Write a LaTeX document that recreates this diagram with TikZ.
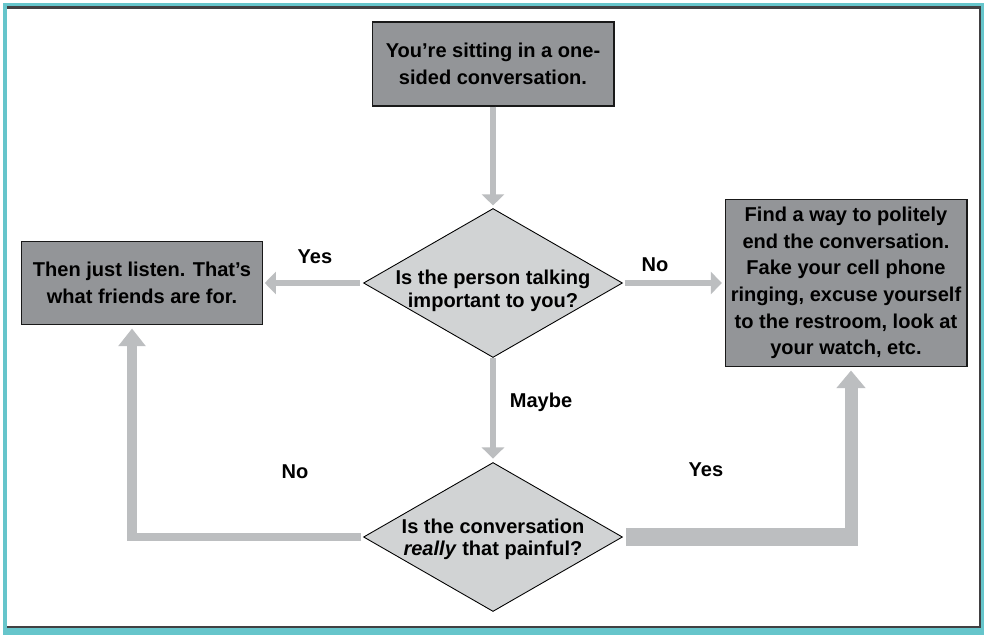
\documentclass[tikz,border=0pt]{standalone}
\usepackage{fontspec}
\setmainfont{Liberation Sans}
\usetikzlibrary{arrows.meta,shapes.geometric}
\definecolor{framecol}{HTML}{66C5CB}
\definecolor{edgecol}{HTML}{414042}
\definecolor{boxgray}{HTML}{939598}
\definecolor{decgray}{HTML}{D1D3D4}
\definecolor{bargray}{HTML}{BCBEC0}
% decision text, set a little lower than the diamond centre
\newcommand{\dtext}[2][3pt]{\raisebox{-#1}[0pt][0pt]{\begin{tabular}{@{}c@{}}#2\end{tabular}}}

\begin{document}
\begin{tikzpicture}[x=0.02cm,y=-0.02cm,
  box/.style={draw=black!90,line width=0.6pt,fill=boxgray,inner sep=0pt,align=center,
              font=\fontsize{11.4}{15.2}\selectfont\bfseries},
  dec/.style={diamond,draw=black,line width=0.5pt,fill=decgray,inner sep=0pt,aspect=1.74,
              minimum width=5.18cm,minimum height=2.98cm,
              font=\fontsize{11.4}{12.6}\selectfont\bfseries},
  arr/.style={bargray,line width=3.1pt,-{Triangle[width=12.5pt,length=6.3pt]}},
  lbl/.style={font=\fontsize{11.4}{13}\selectfont\bfseries}
]

% frame
\useasboundingbox (0,0) rectangle (984,635);
\fill[framecol] (3,3) rectangle (984,635);
\fill[white] (7,7) rectangle (980,627);
\draw[edgecol,line width=1.2pt] (7,7.5) -- (980,7.5) -- (980,627) -- (7,627);

% boxes and decisions
\node[box,minimum width=4.84cm,minimum height=1.68cm] (start) at (493,64) {You’re sitting in a one-\\sided conversation.};
\node[dec] (q1) at (493,283) {\dtext[7.6pt]{Is the person talking\\important to you?}};
\node[box,minimum width=4.82cm,minimum height=1.66cm] (listen) at (142,283) {Then just listen. That’s\\what friends are for.};
\node[box,minimum width=4.84cm,minimum height=3.34cm] (escape) at (846,283) {Find a way to politely\\end the conversation.\\Fake your cell phone\\ringing, excuse yourself\\to the restroom, look at\\your watch, etc.};
\node[dec] (q2) at (493,537) {\dtext[4.4pt]{Is the conversation\\\textit{really} that painful?}};

% arrows
\draw[arr,shorten >=1.5pt] (start) -- (q1);
\draw[arr,shorten <=2pt,shorten >=1pt] (q1) -- (listen);
\draw[arr,shorten <=1pt,shorten >=1.5pt] (q1) -- (escape);
\draw[arr,shorten >=2pt] (q1) -- (q2);

\coordinate (nturn) at (132,537);
\coordinate (yturn) at (851,537);
\draw[bargray,line width=4pt,shorten <=1pt] (q2.west) -- (nturn);
\draw[bargray,line width=5.7pt,-{Triangle[width=15pt,length=10pt]},shorten >=2pt] ([yshift=-2pt]nturn) -- (nturn |- listen.south);
\draw[bargray,line width=9.7pt,shorten <=2pt] (q2.east) -- ([xshift=3.7pt]yturn);
\draw[bargray,line width=7.4pt,-{Triangle[width=16pt,length=10pt]},shorten >=2pt] ([yshift=-4.8pt]yturn) -- (yturn |- escape.south);

% labels
\node[lbl] (yes1) at (315,257) {Yes};
\node[lbl] (no1) at (655,265) {No};
\node[lbl] (maybe) at (541,402) {Maybe};
\node[lbl] (no2) at (295,472) {No};
\node[lbl] (yes2) at (706,470) {Yes};

\end{tikzpicture}
\end{document}
